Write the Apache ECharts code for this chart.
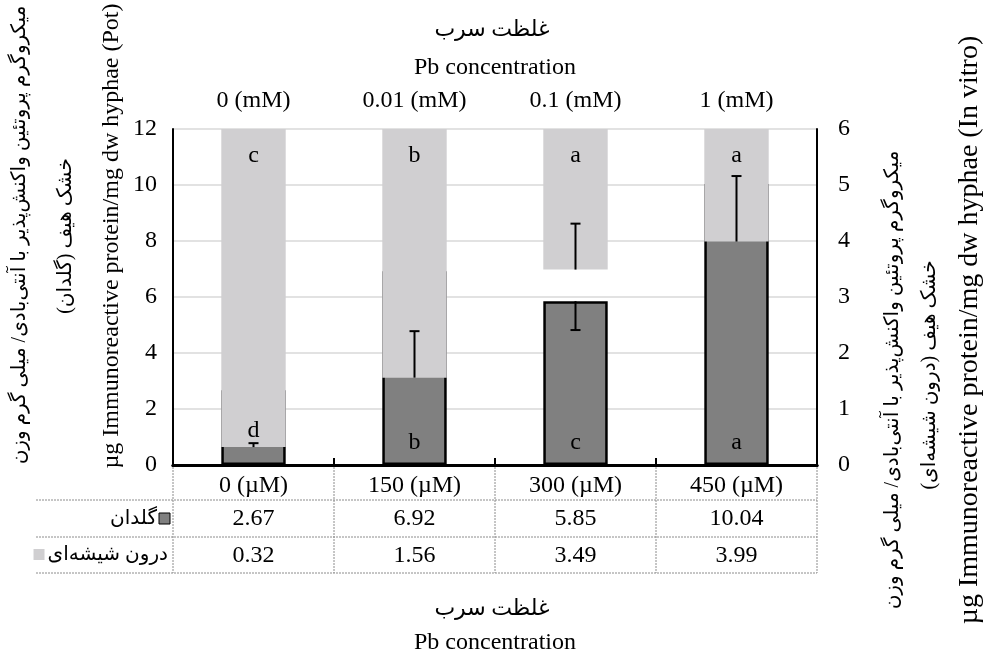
<!DOCTYPE html>
<html><head><meta charset="utf-8">
<script src="https://cdn.jsdelivr.net/npm/echarts@6/dist/echarts.min.js"></script>
<style>html,body{margin:0;padding:0;background:#fff}#c{width:986px;height:657px}</style>
</head><body><div id="c"></div>
<script>
// ---- data ----
const concBottom = ['0 (µM)', '150 (µM)', '300 (µM)', '450 (µM)'];
const concTop = ['0 (mM)', '0.01 (mM)', '0.1 (mM)', '1 (mM)'];
const potValues = [2.67, 6.92, 5.85, 10.04];
const invitroValues = [0.32, 1.56, 3.49, 3.99];
const potErrMinus = [null, null, 1.03, null];
const invitroErrPlus = [0.07, 0.83, 0.82, 1.17];
const potLetters = ['d', 'b', 'c', 'a'];
const invitroLetters = ['c', 'b', 'a', 'a'];
const leftAxis = {min: 0, max: 12, interval: 2};
const rightAxis = {min: 0, max: 6, interval: 1};
const potName = 'گلدان';
const invitroName = 'درون شیشه‌ای';
const titleFa = 'غلظت سرب';
const titleEn = 'Pb concentration';
const yTitleFa1 = 'میکروگرم پروتئین واکنش‌پذیر با آنتی‌بادی/ میلی گرم وزن';
const yTitleFaPot = 'خشک هیف (گلدان)';
const yTitleFaVitro = 'خشک هیف (درون شیشه‌ای)';
const yTitleEnPot = 'µg Immunoreactive protein/mg dw hyphae (Pot)';
const yTitleEnVitro = 'µg Immunoreactive protein/mg dw hyphae (In vitro)';

// ---- layout ----
const FONT = '"Liberation Serif","DejaVu Sans",serif';
const FA = 20;
const GL = 173, GR = 817, GT = 129, GB = 465;
const W = 986, H = 657;
const DARK = '#808080', LIGHT = '#d0cfd1';
const rowLines = [500, 537, 573];
const TABLE_LEFT = 36;

const chart = echarts.init(document.getElementById('c'), null, {renderer: 'canvas'});

function measure(txt, size) {
  const c = document.createElement('canvas').getContext('2d');
  c.font = size + 'px ' + FONT;
  return c.measureText(txt).width;
}

const lbl = {fontSize: 24, color: '#000', fontFamily: FONT};
const graphics = [];
function txt(x, y, text, size, rot, align) {
  graphics.push({type: 'text', x: x, y: y, rotation: rot || 0, silent: true,
    style: {text: text, x: 0, y: 0, fontSize: size, fontFamily: FONT, fill: '#000',
      align: align || 'center', verticalAlign: 'middle'}});
}
const cx = (GL + GR) / 2;
txt(cx - 3, 30, titleFa, FA + 2);
txt(cx, 68, titleEn, 24);
txt(cx - 3, 609, titleFa, FA + 2);
txt(cx, 643, titleEn, 24);
txt(20, 235, yTitleFa1, FA, Math.PI / 2);
txt(66, 236, yTitleFaPot, FA, Math.PI / 2);
txt(112, 236, yTitleEnPot, 24, Math.PI / 2);
txt(893, 380, yTitleFa1, FA, Math.PI / 2);
txt(930, 375, yTitleFaVitro, FA, Math.PI / 2);
txt(970, 330, yTitleEnVitro, 28, Math.PI / 2);

// table lines
const dash = {stroke: '#8c8c8c', lineWidth: 1, lineDash: [2, 1]};
rowLines.forEach(function (y) {
  graphics.push({type: 'line', silent: true, shape: {x1: TABLE_LEFT, y1: y, x2: GR, y2: y}, style: dash});
});
for (let k = 0; k <= concBottom.length; k++) {
  const x = GL + (GR - GL) * k / concBottom.length;
  graphics.push({type: 'line', silent: true, shape: {x1: x, y1: GB + 2, x2: x, y2: rowLines[2]}, style: dash});
}
// legend keys in table
txt(157, 519, potName, FA, 0, 'right');
graphics.push({type: 'rect', silent: true, shape: {x: 159, y: 513, width: 11, height: 11},
  style: {fill: DARK, stroke: '#000', lineWidth: 1}});
const wv = measure(invitroName, FA);
txt(168, 555, invitroName, FA, 0, 'right');
graphics.push({type: 'rect', silent: true, shape: {x: 168 - wv - 14, y: 549, width: 11, height: 11},
  style: {fill: LIGHT}});

function errRender(dir, errArr, vals) {
  return function (params, api) {
    const i = api.value(0);
    const e = errArr[i];
    if (e == null) return null;
    const v = vals[i];
    const p0 = api.coord([i, v]);
    const p1 = api.coord([i, v + dir * e]);
    const cap = 5;
    return {type: 'group', children: [
      {type: 'line', shape: {x1: p0[0], y1: p0[1], x2: p1[0], y2: p1[1]}, style: {stroke: '#000', lineWidth: 2}},
      {type: 'line', shape: {x1: p1[0] - cap, y1: p1[1], x2: p1[0] + cap, y2: p1[1]}, style: {stroke: '#000', lineWidth: 2}}
    ]};
  };
}

const option = {
  animation: false,
  backgroundColor: '#fff',
  textStyle: {fontFamily: FONT},
  grid: {left: GL, right: W - GR, top: GT, bottom: H - GB, containLabel: false},
  xAxis: [
    {type: 'category', position: 'bottom', data: concBottom,
      axisLine: {lineStyle: {color: '#000', width: 3}}, axisTick: {show: false},
      axisLabel: Object.assign({margin: 9}, lbl)},
    {type: 'category', position: 'top', data: concTop,
      axisLine: {lineStyle: {color: '#000', width: 3}},
      axisTick: {show: true, length: 7, interval: 0, lineStyle: {color: '#000', width: 2}},
      axisLabel: Object.assign({margin: 16}, lbl)},
    {type: 'category', position: 'bottom', offset: 33, data: potValues.map(function (v) { return v.toFixed(2); }),
      axisLine: {show: false}, axisTick: {show: false}, axisLabel: Object.assign({margin: 9}, lbl)},
    {type: 'category', position: 'bottom', offset: 70, data: invitroValues.map(function (v) { return v.toFixed(2); }),
      axisLine: {show: false}, axisTick: {show: false}, axisLabel: Object.assign({margin: 9}, lbl)}
  ],
  yAxis: [
    {type: 'value', position: 'left', min: leftAxis.min, max: leftAxis.max, interval: leftAxis.interval,
      axisLine: {show: true, lineStyle: {color: '#000', width: 2}}, axisTick: {show: false},
      axisLabel: Object.assign({margin: 16}, lbl),
      splitLine: {show: true, lineStyle: {color: '#d9d9d9', width: 1.5}}},
    {type: 'value', position: 'right', min: rightAxis.min, max: rightAxis.max, interval: rightAxis.interval,
      axisLine: {show: true, lineStyle: {color: '#000', width: 2}}, axisTick: {show: false},
      axisLabel: Object.assign({margin: 21}, lbl), splitLine: {show: false}}
  ],
  series: [
    {name: potName, type: 'bar', xAxisIndex: 0, yAxisIndex: 0, data: potValues, barWidth: '40%', z: 2,
      itemStyle: {color: DARK, borderColor: '#000', borderWidth: 2.5}},
    {type: 'custom', xAxisIndex: 0, yAxisIndex: 0, z: 3, data: potValues.map(function (v, i) { return [i, v]; }),
      renderItem: errRender(-1, potErrMinus, potValues)},
    {name: invitroName, type: 'custom', xAxisIndex: 0, yAxisIndex: 1, z: 4,
      data: invitroValues.map(function (v, i) { return [i, v]; }),
      renderItem: function (params, api) {
        const i = api.value(0);
        const p0 = api.coord([i, api.value(1)]);
        const p1 = api.coord([i, rightAxis.max]);
        const w = api.size([1, 0])[0] * 0.4;
        return {type: 'rect', shape: {x: p0[0] - w / 2, y: p1[1], width: w, height: p0[1] - p1[1]},
          style: {fill: LIGHT}};
      }},
    {type: 'custom', xAxisIndex: 0, yAxisIndex: 1, z: 5, data: invitroValues.map(function (v, i) { return [i, v]; }),
      renderItem: errRender(1, invitroErrPlus, invitroValues)},
    {type: 'custom', xAxisIndex: 0, yAxisIndex: 1, z: 6, data: invitroValues.map(function (v, i) { return [i, v]; }),
      renderItem: function (params, api) {
        const i = api.value(0);
        const top = api.coord([i, rightAxis.max]);
        const base = api.coord([i, rightAxis.min]);
        const capY = api.coord([i, invitroValues[i] + invitroErrPlus[i]])[1];
        let by = base[1] - 22;
        if (capY > by - 12) by = capY - 12;
        const st = {fontSize: 24, fontFamily: FONT, fill: '#000', align: 'center', verticalAlign: 'middle'};
        return {type: 'group', children: [
          {type: 'text', style: Object.assign({text: invitroLetters[i], x: top[0], y: top[1] + 27}, st)},
          {type: 'text', style: Object.assign({text: potLetters[i], x: base[0], y: by}, st)}
        ]};
      }}
  ],
  graphic: graphics
};
chart.setOption(option);
</script>
</body></html>
